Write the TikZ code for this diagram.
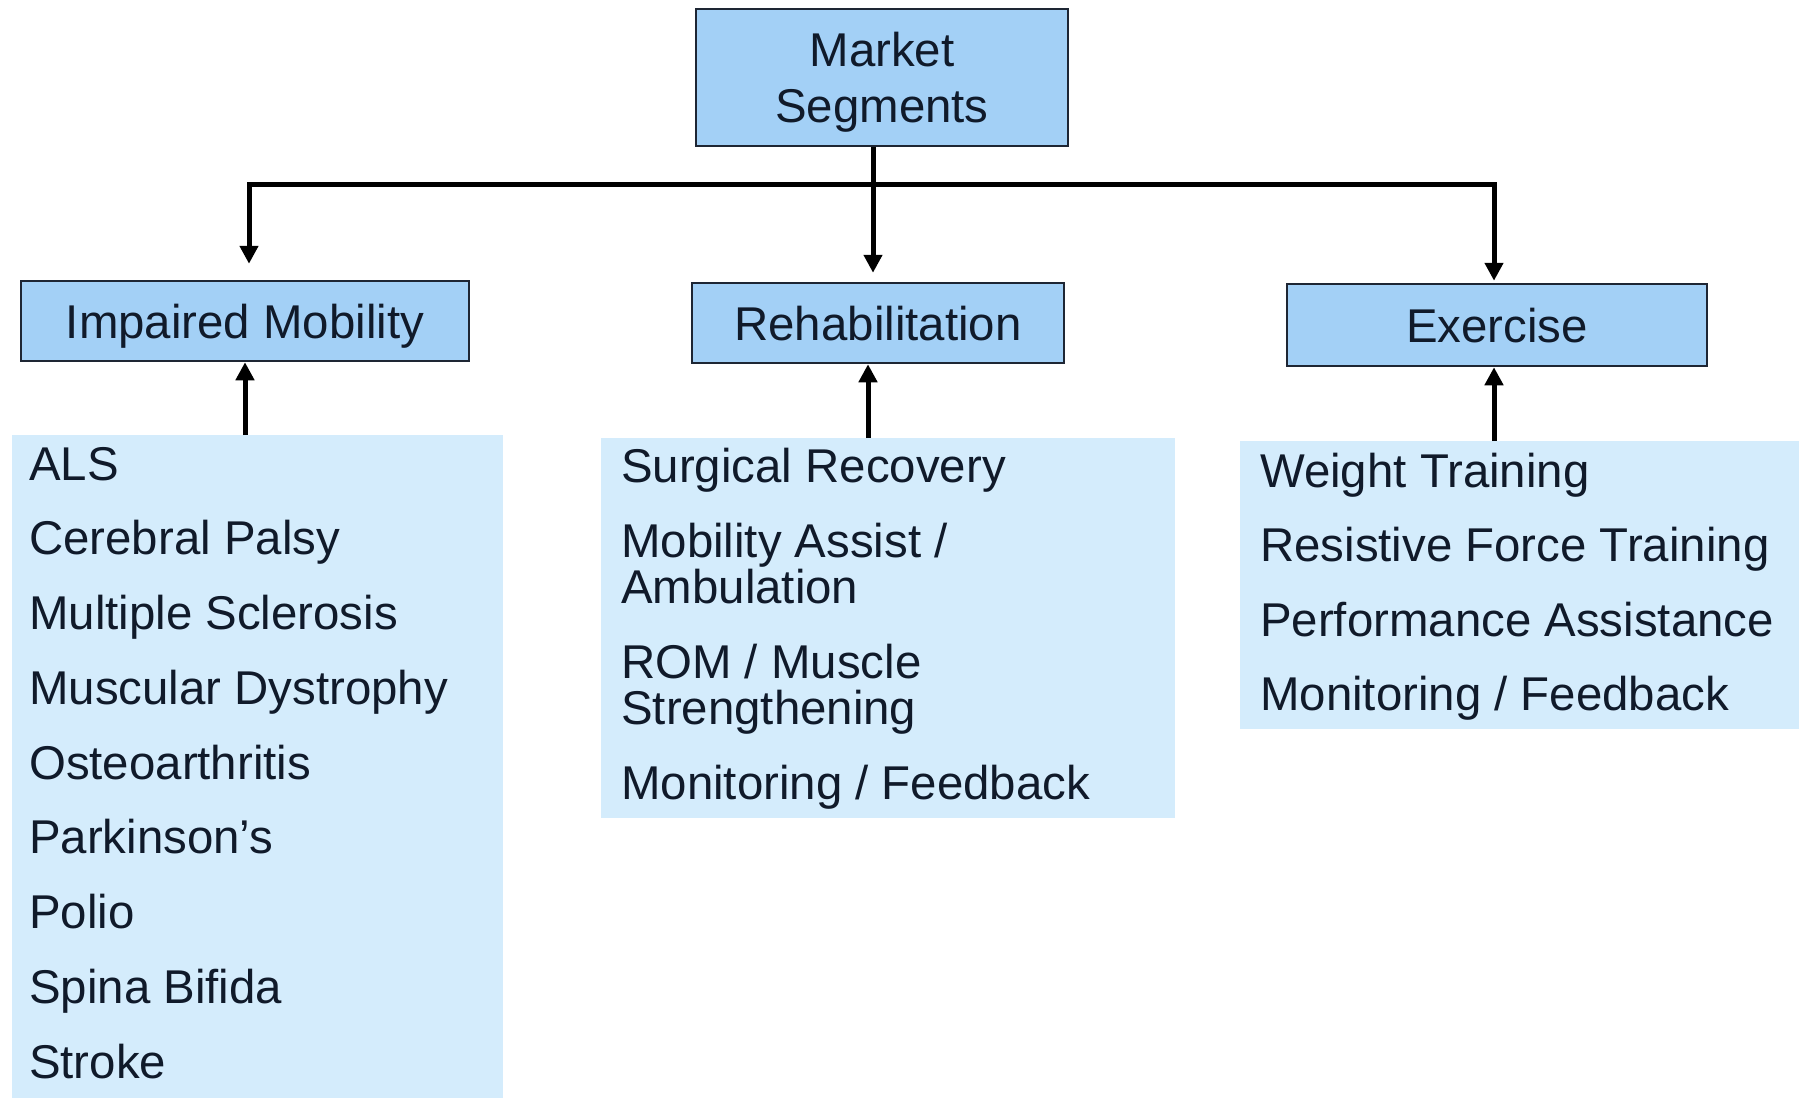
\documentclass[tikz,border=0pt]{standalone}
\usepackage{fontspec}
\setmainfont{Liberation Sans}
\usetikzlibrary{arrows.meta}
\definecolor{hdrfill}{RGB}{163,208,246}
\definecolor{lstfill}{RGB}{212,236,252}
\definecolor{bordc}{RGB}{30,38,52}
\definecolor{txtc}{RGB}{16,26,42}
\begin{document}
\begin{tikzpicture}[x=1pt,y=-1pt,
 hdr/.style={draw=bordc, line width=2.5pt, fill=hdrfill, inner sep=0pt, text=txtc,
   font=\fontsize{47.4}{56}\selectfont, text height=34pt, text depth=0pt},
 lstbg/.style={fill=lstfill, inner sep=0pt, anchor=north west},
 lsttxt/.style={inner sep=0pt, anchor=base west, text=txtc},
 conn/.style={line width=5pt, black},
 arr/.style={conn, -{Triangle[length=18pt,width=18pt]}}]
\useasboundingbox[fill=white] (0,0) rectangle (1806,1097);

% header boxes
\node[hdr, minimum width=372pt, minimum height=137pt, text depth=56pt] (ms) at (882,77.5)
  {\vtop{\baselineskip=56pt\halign{\hfil#\hfil\cr Market\cr Segments\cr}}};
\node[hdr, minimum width=448pt, minimum height=80pt] (im) at (245,321) {Impaired Mobility};
\node[hdr, minimum width=372pt, minimum height=80pt] (rh) at (878,323) {Rehabilitation};
\node[hdr, minimum width=420pt, minimum height=82pt] (ex) at (1497,325) {Exercise};

% list backgrounds
\node[lstbg, minimum width=491pt, minimum height=670pt] (l1) at (12,435) {};
\node[lstbg, minimum width=574pt, minimum height=380pt] (l2) at (601,438) {};
\node[lstbg, minimum width=559pt, minimum height=288pt] (l3) at (1240,441) {};

% list texts
\node[lsttxt, font=\fontsize{47.4}{74.75}\selectfont] (t1) at (29,480)
  {\vtop{\hbox{ALS}\hbox{Cerebral Palsy}\hbox{Multiple Sclerosis}\hbox{Muscular Dystrophy}%
  \hbox{Osteoarthritis}\hbox{Parkinson’s}\hbox{Polio}\hbox{Spina Bifida}\hbox{Stroke}}};
\node[lsttxt, font=\fontsize{47.4}{46}\selectfont] (t2) at (621,482)
  {\vtop{\hbox{Surgical Recovery}\vskip29pt\hbox{Mobility Assist /}\hbox{Ambulation}%
  \vskip29pt\hbox{ROM / Muscle}\hbox{Strengthening}\vskip29pt\hbox{Monitoring / Feedback}}};
\node[lsttxt, font=\fontsize{47.4}{74.5}\selectfont] (t3) at (1260,487)
  {\vtop{\hbox{Weight Training}\hbox{Resistive Force Training}\hbox{Performance Assistance}%
  \hbox{Monitoring / Feedback}}};

% connectors
\coordinate (j) at (873,184);
\coordinate (lx) at (249,0);
\coordinate (rx) at (1494,0);
\coordinate (ra) at (868,0);
\draw[arr, shorten >=9pt] (ms.south -| j) -- (rh.north -| j);
\draw[arr, shorten >=16pt] (j) -| (im.north -| lx);
\draw[arr, shorten >=2pt] (j) -| (ex.north -| rx);
\draw[arr] (l1.north -| im.south) -- (im.south);
\draw[arr] (l2.north -| ra) -- (rh.south -| ra);
\draw[arr] (l3.north -| rx) -- (ex.south -| rx);
\end{tikzpicture}
\end{document}
